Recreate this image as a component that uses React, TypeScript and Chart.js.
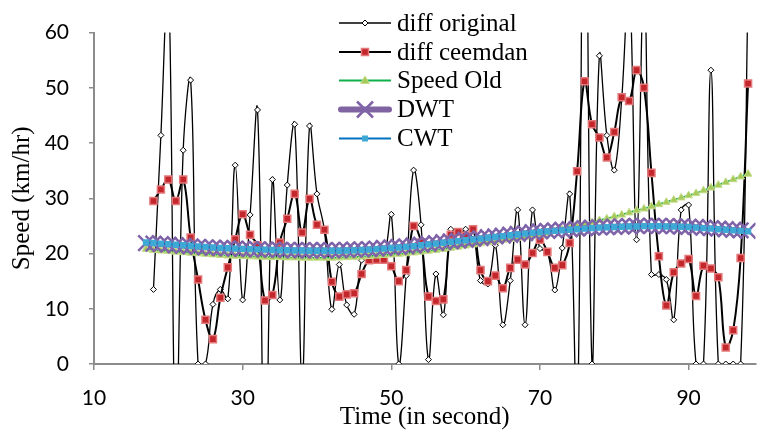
import React, { useEffect, useRef } from 'react';
import { Chart, registerables } from 'chart.js';

Chart.register(...registerables);

// Time axis (seconds)
const time = [17, 18, 19, 20, 21, 22, 23, 24, 25, 26, 27, 28, 29, 30, 31, 32, 33, 34, 35, 36, 37, 38, 39, 40, 41, 42, 43, 44, 45, 46, 47, 48, 49, 50, 51, 52, 53, 54, 55, 56, 57, 58, 59, 60, 61, 62, 63, 64, 65, 66, 67, 68, 69, 70, 71, 72, 73, 74, 75, 76, 77, 78, 79, 80, 81, 82, 83, 84, 85, 86, 87, 88, 89, 90, 91, 92, 93, 94, 95, 96, 97, 98];

const diffOriginal = [null, 13.5, 41.4, 70, -16.5, 38.7, 51.4, 0, 0, 10.8, 13.5, 11.8, 36.0, 11.6, 27, 46.0, -25, 33.4, 11.6, 32.4, 43.4, -3, 43.1, 30.8, 24.2, 9.9, 18, 10.7, 9.0, 18.8, 19.2, 19.5, 19.3, 27.1, 0, 16, 35.1, 25.2, 0.8, 16.3, 8.9, 24.4, 23.0, 24.4, 23.5, 15.1, 14.5, 21.5, 7.1, 15.1, 27.9, 7.1, 27.9, 20.9, 20.3, 13.4, 21, 30.8, -12, 110, 0, 55.8, 41.4, 35.1, 48, 70, 22.5, 70, 16.2, 16.2, 15.3, 8.0, 27.9, 28.8, 0, 0, 53.2, 0, 0, 0, 0, 68];

const diffCeemdan = [null, 29.5, 31.6, 33.4, 29.5, 33.4, 22.9, 15.3, 8.0, 4.5, 12.0, 17.5, 22.6, 27.1, 23.4, 21.5, 11.5, 12.5, 22.0, 26.3, 30.8, 23.8, 29.9, 25.2, 24.3, 14.9, 12.2, 12.6, 12.8, 16.3, 18.8, 18.9, 18.9, 17.7, 15.0, 17.0, 25.0, 22.0, 12.2, 11.4, 11.7, 23.4, 23.9, 23.2, 24.4, 17.0, 15.0, 16.0, 13.7, 17.4, 18.9, 18.0, 20.1, 22.5, 20.3, 17.4, 17.9, 21.9, 34.9, 51.2, 43.4, 41.0, 37.4, 42.0, 48.3, 47.6, 53.2, 50.0, 34.6, 19.5, 10.6, 16.6, 18.2, 19.0, 12.3, 17.8, 17.3, 15.7, 3.0, 6.1, 19.2, 50.8];

const speedOld = [20.8, 20.6, 20.5, 20.4, 20.3, 20.2, 20.1, 20.0, 19.9, 19.8, 19.7, 19.6, 19.55, 19.5, 19.45, 19.4, 19.35, 19.3, 19.3, 19.25, 19.25, 19.2, 19.2, 19.2, 19.2, 19.2, 19.25, 19.3, 19.35, 19.4, 19.5, 19.6, 19.7, 19.8, 19.9, 20.0, 20.15, 20.3, 20.45, 20.6, 20.8, 21.0, 21.2, 21.4, 21.6, 21.8, 22.0, 22.2, 22.4, 22.6, 22.8, 23.0, 23.2, 23.4, 23.7, 24.0, 24.3, 24.6, 24.9, 25.3, 25.6, 26.0, 26.3, 26.7, 27.0, 27.4, 27.8, 28.1, 28.5, 28.9, 29.3, 29.7, 30.1, 30.5, 30.9, 31.4, 31.9, 32.4, 32.9, 33.4, 33.9, 34.4];

const dwt = [21.9, 21.8, 21.7, 21.6, 21.5, 21.4, 21.3, 21.2, 21.1, 21.05, 21.0, 20.95, 20.9, 20.85, 20.8, 20.75, 20.7, 20.7, 20.65, 20.65, 20.6, 20.6, 20.6, 20.6, 20.6, 20.6, 20.6, 20.65, 20.7, 20.75, 20.8, 20.9, 21.0, 21.1, 21.2, 21.3, 21.45, 21.6, 21.75, 21.9, 22.05, 22.2, 22.35, 22.5, 22.65, 22.8, 22.95, 23.1, 23.25, 23.4, 23.55, 23.7, 23.85, 24.0, 24.1, 24.2, 24.3, 24.4, 24.5, 24.6, 24.7, 24.75, 24.8, 24.85, 24.9, 24.95, 25.0, 25.0, 25.0, 25.0, 24.95, 24.95, 24.9, 24.85, 24.8, 24.7, 24.6, 24.5, 24.4, 24.3, 24.2, 24.1];

const cwt = [22.0, 21.9, 21.8, 21.7, 21.6, 21.5, 21.4, 21.3, 21.2, 21.1, 21.0, 20.95, 20.9, 20.85, 20.8, 20.75, 20.7, 20.65, 20.6, 20.6, 20.55, 20.55, 20.5, 20.5, 20.5, 20.5, 20.5, 20.55, 20.6, 20.65, 20.7, 20.8, 20.9, 21.0, 21.1, 21.2, 21.35, 21.5, 21.65, 21.8, 21.95, 22.1, 22.25, 22.4, 22.55, 22.7, 22.85, 23.0, 23.15, 23.3, 23.45, 23.6, 23.75, 23.9, 24.0, 24.1, 24.2, 24.3, 24.4, 24.5, 24.6, 24.7, 24.75, 24.8, 24.85, 24.9, 24.9, 24.95, 24.95, 24.95, 24.9, 24.9, 24.85, 24.8, 24.7, 24.6, 24.5, 24.4, 24.3, 24.2, 24.1, 24.0];

const xTicks = [10, 30, 50, 70, 90];
const yTicks = [0, 10, 20, 30, 40, 50, 60];

const seriesNames = ['diff original', 'diff ceemdan', 'Speed Old', 'DWT', 'CWT'];

const AXIS_GRAY = '#8c8c8c';
const SERIF = '"Liberation Serif", "Times New Roman", serif';
const SANS = 'Lato, "Liberation Sans", sans-serif';

const toPoints = (ys: (number | null)[]) =>
  time.map((t, i) => ({ x: t, y: ys[i] }));

function drawDiamond(ctx: CanvasRenderingContext2D, x: number, y: number, r: number) {
  ctx.beginPath();
  ctx.moveTo(x, y - r);
  ctx.lineTo(x + r, y);
  ctx.lineTo(x, y + r);
  ctx.lineTo(x - r, y);
  ctx.closePath();
  ctx.fillStyle = '#ffffff';
  ctx.fill();
  ctx.strokeStyle = '#000000';
  ctx.lineWidth = 1;
  ctx.stroke();
}

function drawSquare(ctx: CanvasRenderingContext2D, x: number, y: number, s: number, fill: string, stroke: string, lw: number) {
  ctx.beginPath();
  ctx.rect(x - s / 2, y - s / 2, s, s);
  ctx.fillStyle = fill;
  ctx.fill();
  if (lw > 0) {
    ctx.strokeStyle = stroke;
    ctx.lineWidth = lw;
    ctx.stroke();
  }
}

const legendPlugin = {
  id: 'insideLegend',
  afterDraw(chart: any) {
    const ctx: CanvasRenderingContext2D = chart.ctx;
    const x0 = 339;
    const x1 = 391;
    const xm = 365;
    const tx = 397;
    const rows = [23, 52, 80.5, 109.5, 138.5];
    ctx.save();
    ctx.lineCap = 'butt';
    // diff original
    ctx.beginPath();
    ctx.moveTo(x0, rows[0]);
    ctx.lineTo(x1, rows[0]);
    ctx.strokeStyle = '#000';
    ctx.lineWidth = 1.3;
    ctx.stroke();
    drawDiamond(ctx, xm, rows[0], 3);
    // diff ceemdan
    ctx.beginPath();
    ctx.moveTo(x0, rows[1]);
    ctx.lineTo(x1, rows[1]);
    ctx.strokeStyle = '#000';
    ctx.lineWidth = 2;
    ctx.stroke();
    drawSquare(ctx, xm, rows[1], 7, '#C3262B', '#E4787A', 1.5);
    // Speed Old
    ctx.beginPath();
    ctx.moveTo(x0, rows[2]);
    ctx.lineTo(x1, rows[2]);
    ctx.strokeStyle = '#10B04A';
    ctx.lineWidth = 2;
    ctx.stroke();
    ctx.beginPath();
    ctx.moveTo(xm, rows[2] - 4.5);
    ctx.lineTo(xm + 4.5, rows[2] + 3);
    ctx.lineTo(xm - 4.5, rows[2] + 3);
    ctx.closePath();
    ctx.fillStyle = '#A6C95A';
    ctx.fill();
    ctx.strokeStyle = '#C6DE8E';
    ctx.lineWidth = 1;
    ctx.stroke();
    // DWT
    ctx.beginPath();
    ctx.lineCap = 'round';
    ctx.moveTo(x0 + 2, rows[3]);
    ctx.lineTo(x1 - 2, rows[3]);
    ctx.strokeStyle = '#8064A2';
    ctx.lineWidth = 6;
    ctx.stroke();
    ctx.lineCap = 'butt';
    ctx.beginPath();
    ctx.moveTo(xm - 8, rows[3] - 8);
    ctx.lineTo(xm + 8, rows[3] + 8);
    ctx.moveTo(xm + 8, rows[3] - 8);
    ctx.lineTo(xm - 8, rows[3] + 8);
    ctx.strokeStyle = '#7F63A8';
    ctx.lineWidth = 2.5;
    ctx.stroke();
    // CWT
    ctx.beginPath();
    ctx.moveTo(x0, rows[4]);
    ctx.lineTo(x1, rows[4]);
    ctx.strokeStyle = '#0070C0';
    ctx.lineWidth = 2;
    ctx.stroke();
    drawSquare(ctx, xm, rows[4], 6, '#3FA9D6', '#3FA9D6', 0);

    ctx.fillStyle = '#000';
    ctx.font = '25px ' + SERIF;
    ctx.textAlign = 'left';
    ctx.textBaseline = 'middle';
    seriesNames.forEach((name, i) => ctx.fillText(name, tx, rows[i] + 1));
    ctx.restore();
  },
};

export default function App() {
  const canvasRef = useRef<HTMLCanvasElement | null>(null);

  useEffect(() => {
    const canvas = canvasRef.current;
    if (!canvas) return;
    const chart = new Chart(canvas, {
      type: 'line',
      data: {
        datasets: [
          {
            label: seriesNames[0],
            data: toPoints(diffOriginal),
            borderColor: '#000000',
            borderWidth: 1.3,
            pointStyle: 'rectRot',
            pointRadius: 3,
            pointBackgroundColor: '#ffffff',
            pointBorderColor: '#000000',
            pointBorderWidth: 1,
            order: 4,
          },
          {
            label: seriesNames[1],
            data: toPoints(diffCeemdan),
            borderColor: '#000000',
            borderWidth: 2,
            pointStyle: 'rect',
            pointRadius: 5,
            pointBackgroundColor: '#C3262B',
            pointBorderColor: '#E4787A',
            pointBorderWidth: 1.5,
            order: 3,
          },
          {
            label: seriesNames[2],
            data: toPoints(speedOld),
            borderColor: '#10B04A',
            borderWidth: 2,
            pointStyle: 'triangle',
            pointRadius: 4.5,
            pointBackgroundColor: '#A6C95A',
            pointBorderColor: '#C6DE8E',
            pointBorderWidth: 1,
            order: 2,
          },
          {
            label: seriesNames[3],
            data: toPoints(dwt),
            borderColor: '#8064A2',
            borderWidth: 5,
            pointStyle: 'crossRot',
            pointRadius: 11,
            pointBorderColor: '#7F63A8',
            pointBorderWidth: 2.5,
            order: 1,
          },
          {
            label: seriesNames[4],
            data: toPoints(cwt),
            borderColor: '#0070C0',
            borderWidth: 2,
            pointStyle: 'rect',
            pointRadius: 4.5,
            pointBackgroundColor: '#3FA9D6',
            pointBorderColor: '#3FA9D6',
            pointBorderWidth: 0,
            order: 0,
          },
        ],
      },
      options: {
        responsive: false,
        maintainAspectRatio: false,
        devicePixelRatio: 1,
        animation: false,
        events: [],
        layout: { padding: { top: 15, right: 0, left: 0, bottom: 0 } },
        elements: {
          line: { tension: 0.4, capBezierPoints: false, fill: false },
        },
        plugins: {
          legend: { display: false },
          tooltip: { enabled: false },
          title: { display: false },
        },
        scales: {
          x: {
            type: 'linear',
            min: 10,
            max: 99,
            afterBuildTicks: (scale: any) => {
              scale.ticks = xTicks.map((v) => ({ value: v }));
            },
            afterFit: (scale: any) => {
              scale.height = 70;
            },
            grid: {
              display: true,
              drawOnChartArea: false,
              drawTicks: true,
              tickLength: 6,
              color: AXIS_GRAY,
              lineWidth: 1.5,
            },
            border: { display: true, color: AXIS_GRAY, width: 2 },
            ticks: {
              color: '#000',
              font: { family: SANS, size: 21 },
              padding: 16,
              maxRotation: 0,
              autoSkip: false,
            },
            title: {
              display: true,
              text: 'Time (in second)',
              color: '#000',
              font: { family: SERIF, size: 25 },
              padding: { top: 0, bottom: 2 },
            },
          },
          y: {
            type: 'linear',
            min: 0,
            max: 60,
            afterBuildTicks: (scale: any) => {
              scale.ticks = yTicks.map((v) => ({ value: v }));
            },
            afterFit: (scale: any) => {
              scale.width = 94;
            },
            grid: {
              display: true,
              drawOnChartArea: false,
              drawTicks: true,
              tickLength: 5,
              color: AXIS_GRAY,
              lineWidth: 1.5,
            },
            border: { display: true, color: AXIS_GRAY, width: 2 },
            ticks: {
              color: '#000',
              font: { family: SANS, size: 21 },
              padding: 20,
              autoSkip: false,
            },
            title: {
              display: true,
              text: 'Speed (km/hr)',
              color: '#000',
              font: { family: SERIF, size: 25 },
              padding: { top: 7, bottom: 0 },
            },
          },
        },
      },
      plugins: [legendPlugin],
    } as any);
    return () => chart.destroy();
  }, []);

  return (
    <div style={{ position: 'fixed', left: 0, top: 0, width: 769, height: 434, background: '#ffffff' }}>
      <canvas ref={canvasRef} width={769} height={434} style={{ display: 'block', width: 769, height: 434 }} />
    </div>
  );
}
